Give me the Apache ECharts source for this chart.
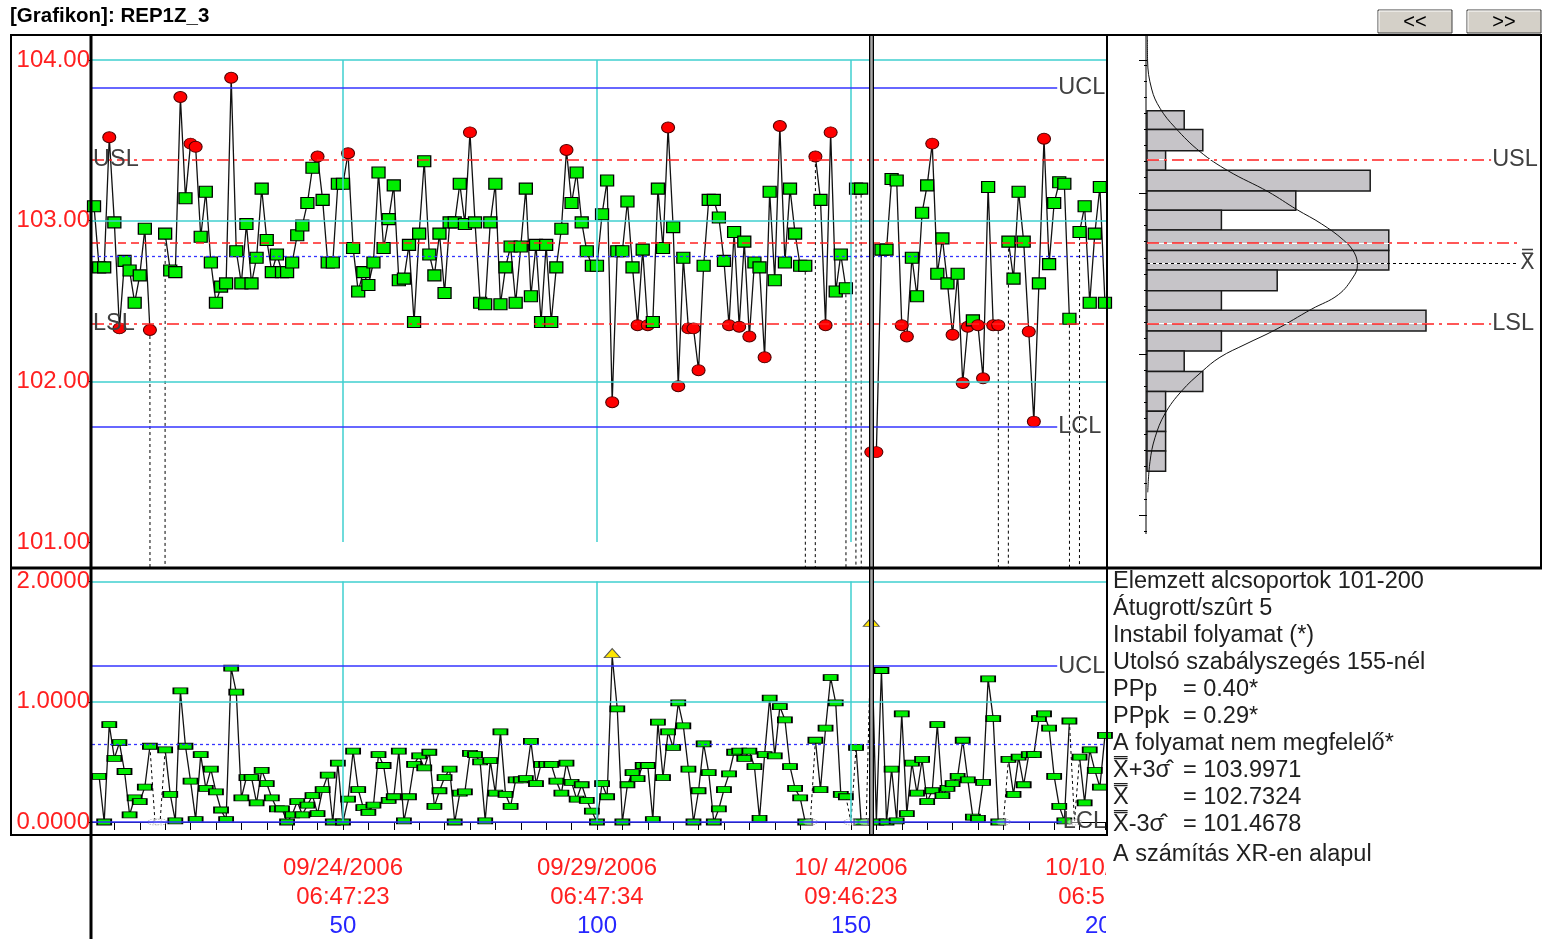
<!DOCTYPE html>
<html><head><meta charset="utf-8">
<script src="https://cdn.jsdelivr.net/npm/echarts@6/dist/echarts.min.js"></script>
<style>html,body{margin:0;padding:0;background:#fff;overflow:hidden}#c{width:1542px;height:939px}</style>
</head><body><div id="c"></div><script>
// ---------------- data ----------------
// X (individual values) per subgroup 1..200, null = skipped/filtered subgroup
const xValues = [
 103.09,102.71,102.71,103.52,102.99,102.33,102.75,102.69,102.49,102.66,
 102.95,102.32,null,null,102.92,102.69,102.68,103.77,103.14,103.48,
 103.46,102.90,103.18,102.74,102.49,102.59,102.61,103.89,102.81,102.61,
 102.98,102.61,102.77,103.20,102.88,102.68,102.79,102.68,102.68,102.74,
 102.91,102.97,103.11,103.33,103.40,103.13,102.74,102.74,103.23,103.23,
 103.42,102.83,102.56,102.68,102.60,102.74,103.30,102.83,103.01,103.22,
 102.63,102.64,102.85,102.37,102.92,103.37,102.79,102.66,102.92,102.55,
 102.99,102.99,103.23,102.98,103.55,102.99,102.49,102.48,102.99,103.23,
 102.48,102.71,102.84,102.49,102.84,103.20,102.53,102.85,102.37,102.85,
 102.37,102.71,102.95,103.44,103.11,103.30,102.99,102.81,102.72,102.72,
 103.04,103.25,101.87,102.81,102.81,103.12,102.71,102.35,102.82,102.35,
 102.37,103.20,102.83,103.58,102.96,101.97,102.77,102.33,102.33,102.07,
 102.72,103.13,103.13,103.02,102.75,102.35,102.93,102.34,102.87,102.28,
 102.74,102.71,102.15,103.18,102.63,103.59,102.74,103.20,102.92,102.72,
 102.72,null,103.40,103.13,102.35,103.55,102.56,102.79,102.58,null,
 103.20,103.20,null,101.56,101.56,102.82,102.82,103.26,103.25,102.35,
 102.28,102.77,102.53,103.05,103.22,103.48,102.67,102.89,102.61,102.29,
 102.67,101.99,102.34,102.38,102.35,102.02,103.21,102.35,102.35,null,
 102.87,102.64,103.18,102.87,102.31,101.75,102.61,103.51,102.73,103.11,
 103.24,103.23,102.39,null,102.93,103.09,102.49,102.92,103.21,102.49];
// moving ranges (null = none / skipped)
const rValues = [
 null,0.38,0.00,0.81,0.53,0.66,0.42,0.06,0.20,0.17,
 0.29,0.63,null,null,0.60,0.23,0.01,1.09,0.63,0.34,
 0.02,0.56,0.28,0.44,0.25,0.10,0.02,1.28,1.08,0.20,
 0.37,0.37,0.16,0.43,0.32,0.20,0.11,0.11,0.00,0.06,
 0.17,0.06,0.14,0.22,0.07,0.27,0.39,0.00,0.49,0.00,
 0.19,0.59,0.27,0.12,0.08,0.14,0.56,0.47,0.18,0.21,
 0.59,0.01,0.21,0.48,0.55,0.45,0.58,0.13,0.26,0.37,
 0.44,0.00,0.24,0.25,0.57,0.56,0.50,0.01,0.51,0.24,
 0.75,0.23,0.13,0.35,0.35,0.36,0.67,0.32,0.48,0.48,
 0.48,0.34,0.24,0.49,0.33,0.19,0.31,0.18,0.09,0.00,
 0.32,0.21,1.38,0.94,0.00,0.31,0.41,0.36,0.47,0.47,
 0.02,0.83,0.37,0.75,0.62,0.99,0.80,0.44,0.00,0.26,
 0.65,0.41,0.00,0.11,0.27,0.40,0.58,0.59,0.53,0.59,
 0.46,0.03,0.56,1.03,0.55,0.96,0.85,0.46,0.28,0.20,
 0.00,null,0.68,0.27,0.78,1.20,0.99,0.23,0.21,null,
 0.62,0.00,null,1.64,0.00,1.26,0.00,0.44,0.01,0.90,
 0.07,0.49,0.24,0.52,0.17,0.26,0.81,0.22,0.28,0.32,
 0.38,0.68,0.35,0.04,0.03,0.33,1.19,0.86,0.00,null,
 0.52,0.23,0.54,0.31,0.56,0.56,0.86,0.90,0.78,0.38,
 0.13,0.01,0.84,null,0.54,0.16,0.60,0.43,0.29,0.72];

const USL = 103.38, LSL = 102.36, NOMINAL = 102.86;
const X_UCL = 103.83, X_CL = 102.776, X_LCL = 101.72, X_BAR = 102.7324;
const R_UCL = 1.297, R_CL = 0.648, R_LCL = 0;
const cursorSubgroup = 154;

const xAxisLabelValues = [101, 102, 103, 104];
const xGridValues = [102, 103, 104];
const rAxisLabelValues = [0, 1, 2];
const rGridValues = [1, 2];
const tickIndices = [50, 100, 150, 200];
const tickDates = ['09/24/2006', '09/29/2006', '10/ 4/2006', '10/10/2006'];
const tickTimes = ['06:47:23', '06:47:34', '09:46:23', '06:52:40'];
const gridSubgroups = [50, 100, 150];
const bottomTicks = [5,10,15,20,25,30,35,40,45,50,55,60,65,70,75,80,85,90,95,100,105,110,115,120,125,130,135,140,145,150,155,160,165,170,175,180,185,190,195,200];

// histogram (subgroups 101-200): bin edges top->bottom, counts
const histEdges = [103.685,103.568,103.436,103.315,103.185,103.065,102.943,102.815,102.693,102.565,102.443,102.314,102.189,102.061,101.938,101.815,101.689,101.567,101.441];
const histCounts = [2,3,1,12,8,4,13,13,7,4,15,4,2,3,1,1,1,1];
const curveCounts = [0.02,0.03,0.25,0.70,1.51,2.85,4.37,6.52,8.05,9.39,10.56,11.15,11.31,11.09,10.29,8.85,6.88,5.27,3.92,2.94,1.86,0.97,0.43,0.16,0.04];
const curveValues = [104.15,104.00,103.82,103.70,103.58,103.43,103.31,103.18,103.07,102.98,102.88,102.80,102.72,102.65,102.54,102.45,102.32,102.23,102.15,102.06,101.94,101.80,101.65,101.50,101.31];

const panelLines = [
 ['Elemzett alcsoportok 101-200', ''],
 ['Átugrott/szûrt 5', ''],
 ['Instabil folyamat (*)', ''],
 ['Utolsó szabályszegés 155-nél', ''],
 ['PPp', '= 0.40*'],
 ['PPpk', '= 0.29*'],
 ['A folyamat nem megfelelő*', ''],
 ['X\u033F+3σ\u0302', '= 103.9971'],
 ['X\u033F', '= 102.7324'],
 ['X\u033F-3σ\u0302', '= 101.4678'],
 ['A számítás XR-en alapul', '']
];

// ---------------- chart ----------------
const FONT = '"Liberation Sans", Arial, sans-serif';
const BLUE = '#3434ff', CYAN = '#3fcfcf', RED = '#ff2020', LBL = '#404040';
const XMIN = 0.6, XMAX = 200.4, HMAX = 20;

const chart = echarts.init(document.getElementById('c'));

const isOut = v => v > USL || v < LSL;
const xData = xValues.map((v, k) => v === null ? [k + 1, null] : {
  value: [k + 1, v],
  symbol: isOut(v) ? 'circle' : 'rect',
  itemStyle: isOut(v) ? {color: '#ff0000', borderColor: '#500000', borderWidth: 1}
                      : {color: '#00ee00', borderColor: '#000', borderWidth: 1.2}
});
const rData = rValues.map((v, k) => v === null ? [k + 1, null] : {
  value: [k + 1, v],
  symbol: v > R_UCL ? 'triangle' : 'rect',
  symbolSize: v > R_UCL ? [16, 9] : [14, 6],
  symbolOffset: v > R_UCL ? [0, -3] : [0, 0],
  itemStyle: v > R_UCL ? {color: '#ffe600', borderColor: '#555', borderWidth: 1}
                       : {color: '#00ee00', borderColor: '#000', borderWidth: 1.2}
});

// skipped runs
const skipped = [];
xValues.forEach((v, k) => { if (v === null) skipped.push(k + 1); });
const runs = [];
skipped.forEach(s => { const last = runs[runs.length - 1]; if (last && last[last.length - 1] === s - 1) last.push(s); else runs.push([s]); });

const dashSeries = [];
runs.forEach(run => {
  const p = run[0] - 1, n = run[run.length - 1] + 1;
  const xs = [[p, xValues[p - 1]]].concat(run.map(s => [s, 0])).concat([[n, xValues[n - 1]]]);
  const rs = [[p, rValues[p - 1]]].concat(run.map(s => [s, 0])).concat([[n, rValues[n - 1]]]);
  dashSeries.push({type: 'line', xAxisIndex: 0, yAxisIndex: 0, data: xs, symbol: 'none', silent: true, z: 2,
    lineStyle: {color: '#000', width: 1, type: [3, 3]}});
  dashSeries.push({type: 'line', xAxisIndex: 1, yAxisIndex: 1, data: rs, symbol: 'none', silent: true, z: 2,
    lineStyle: {color: '#000', width: 1, type: [3, 3]}});
});

const seg = (x1, y1, x2, y2) => [{coord: [x1, y1]}, {coord: [x2, y2]}];
const refSeries = (ax, lines, style, z) => ({
  type: 'line', xAxisIndex: ax, yAxisIndex: ax, data: [], z: z, silent: true,
  markLine: {symbol: 'none', silent: true, animation: false, label: {show: false},
    lineStyle: style, emphasis: {disabled: true}, data: lines}
});
const lblPt = (x, y, text, extra) => ({coord: [x, y], label: Object.assign({formatter: text}, extra || {})});
const dashDot = [12, 5, 3, 5];
const labelSeries = (ax, pts) => ({
  type: 'line', xAxisIndex: ax, yAxisIndex: ax, data: [], z: 5, silent: true,
  markPoint: {symbol: 'rect', symbolSize: 0.1, itemStyle: {color: 'rgba(0,0,0,0)'}, silent: true,
    label: {show: true, position: 'right', distance: 1, color: LBL, fontSize: 23.5, fontFamily: FONT}, data: pts}
});

const cyanStyle = {color: CYAN, width: 1.5, type: 'solid'};
const blueStyle = {color: BLUE, width: 1.6, type: 'solid'};
const blueDash = {color: BLUE, width: 1.3, type: [3, 3]};
const redDash = {color: RED, width: 1.5, type: [8, 5]};
const redDashDot = {color: RED, width: 1.5, type: dashDot};

const refs = [
  // X chart
  refSeries(0, xGridValues.map(v => seg(XMIN, v, XMAX, v)).concat(gridSubgroups.map(s => seg(s, 101, s, 104))), cyanStyle, 1),
  refSeries(0, [seg(XMIN, X_UCL, 190.6, X_UCL), seg(XMIN, X_LCL, 190.6, X_LCL)], blueStyle, 1),
  refSeries(0, [seg(XMIN, X_CL, XMAX, X_CL)], blueDash, 1),
  refSeries(0, [seg(XMIN, NOMINAL, XMAX, NOMINAL)], redDash, 1),
  refSeries(0, [seg(XMIN, USL, XMAX, USL), seg(XMIN, LSL, XMAX, LSL)], redDashDot, 1),
  labelSeries(0, [lblPt(190.6, X_UCL, 'UCL'), lblPt(190.6, X_LCL, 'LCL'), lblPt(XMIN, USL, 'USL'), lblPt(XMIN, LSL, 'LSL')]),
  // R chart
  refSeries(1, rGridValues.map(v => seg(XMIN, v, XMAX, v)).concat(gridSubgroups.map(s => seg(s, 0, s, 2))), cyanStyle, 1),
  refSeries(1, [seg(XMIN, R_UCL, 190.6, R_UCL), seg(XMIN, R_LCL, 191.5, R_LCL)], blueStyle, 1),
  refSeries(1, [seg(XMIN, R_CL, XMAX, R_CL)], blueDash, 1),
  labelSeries(1, [lblPt(190.6, R_UCL, 'UCL'), lblPt(191.5, R_LCL, 'LCL')]),
  // histogram
  refSeries(2, [seg(0, USL, HMAX, USL), seg(0, NOMINAL, HMAX, NOMINAL), seg(0, X_BAR, HMAX, X_BAR), seg(0, LSL, HMAX, LSL)], {color: '#fff', width: 1, type: 'solid'}, 3),
  refSeries(2, [seg(0, USL, 18.5, USL), seg(0, NOMINAL, 19.9, NOMINAL), seg(0, LSL, 18.5, LSL)], redDashDot, 4),
  refSeries(2, [seg(0, X_BAR, 19.9, X_BAR)], {color: '#000', width: 1, type: [3, 3]}, 4),
  labelSeries(2, [lblPt(18.5, USL, 'USL'), lblPt(18.5, LSL, 'LSL'),
    lblPt(19.9, X_BAR, 'X\u033F', {fontFamily: '"DejaVu Sans", sans-serif', fontSize: 21, distance: 3})])
];

const cursorSeries = ax => ({
  type: 'line', xAxisIndex: ax, yAxisIndex: ax, data: [], z: 2, silent: true,
  markLine: {symbol: 'none', silent: true, animation: false, label: {show: false},
    data: [
      {xAxis: cursorSubgroup, lineStyle: {color: '#000', width: 5, type: 'solid'}},
      {xAxis: cursorSubgroup, lineStyle: {color: '#a8a8a8', width: 2.5, type: 'solid'}}
    ]}
});

const option = {
  animation: false,
  backgroundColor: '#fff',
  textStyle: {fontFamily: FONT},
  grid: [
    {left: 92, top: 35, width: 1015, height: 532},
    {left: 92, top: 569, width: 1015, height: 266},
    {left: 1147, top: 35, width: 372, height: 532},
    {left: 1147, top: 60, width: 10, height: 471},
    {left: 1147, top: 60, width: 10, height: 455}
  ],
  xAxis: [
    {gridIndex: 0, type: 'value', min: XMIN, max: XMAX, show: false},
    {gridIndex: 1, type: 'value', min: XMIN, max: XMAX, position: 'bottom', offset: 13,
      axisLine: {show: true, lineStyle: {color: '#000', width: 1}},
      axisTick: {show: true, customValues: bottomTicks, length: 8, lineStyle: {color: '#000'}},
      splitLine: {show: false},
      axisLabel: {show: true, customValues: tickIndices, margin: 6,
        formatter: v => { const k = tickIndices.indexOf(Math.round(v)); return '{d|' + tickDates[k] + '}\n{d|' + tickTimes[k] + '}\n{n|' + tickIndices[k] + '}'; },
        rich: {d: {color: RED, fontSize: 24, lineHeight: 29, fontFamily: FONT}, n: {color: '#2626ff', fontSize: 24, lineHeight: 29, fontFamily: FONT}}}},
    {gridIndex: 2, type: 'value', min: 0, max: HMAX, show: false},
    {gridIndex: 3, type: 'value', min: 0, max: 1, show: false},
    {gridIndex: 4, type: 'value', min: 0, max: 1, show: false}
  ],
  yAxis: [
    {gridIndex: 0, type: 'value', min: 100.845, max: 104.156, splitLine: {show: false},
      axisLine: {show: false},
      axisTick: {show: true, customValues: xAxisLabelValues, length: 5, lineStyle: {color: '#000'}},
      axisLabel: {customValues: xAxisLabelValues, formatter: v => v.toFixed(2), color: RED, fontSize: 24, fontFamily: FONT, margin: 2}},
    {gridIndex: 1, type: 'value', min: -0.108, max: 2.104, splitLine: {show: false},
      axisLine: {show: false},
      axisTick: {show: true, customValues: rAxisLabelValues, length: 5, lineStyle: {color: '#000'}},
      axisLabel: {customValues: rAxisLabelValues, formatter: v => v.toFixed(4), color: RED, fontSize: 24, fontFamily: FONT, margin: 2}},
    {gridIndex: 2, type: 'value', min: 100.845, max: 104.156, show: false},
    {gridIndex: 3, type: 'value', min: 101.069, max: 104.0, interval: 0.1, splitLine: {show: false},
      axisLine: {show: false}, axisLabel: {show: false}, axisTick: {show: true, length: 3, lineStyle: {color: '#000'}}},
    {gridIndex: 4, type: 'value', min: 101.169, max: 104.0, interval: 1, splitLine: {show: false},
      axisLine: {show: false}, axisLabel: {show: false}, axisTick: {show: true, length: 8, lineStyle: {color: '#000'}}}
  ],
  series: refs.concat([
    cursorSeries(0), cursorSeries(1),
    // X individual values
    {type: 'line', xAxisIndex: 0, yAxisIndex: 0, data: xData, z: 3, connectNulls: false, clip: true,
      symbolSize: [13, 11], showAllSymbol: true, lineStyle: {color: '#111', width: 1.3}},
    // moving range
    {type: 'line', xAxisIndex: 1, yAxisIndex: 1, data: rData, z: 3, connectNulls: false, clip: true,
      showAllSymbol: true, lineStyle: {color: '#111', width: 1.3}},
    // skipped markers on R chart
    {type: 'scatter', xAxisIndex: 1, yAxisIndex: 1, data: skipped.map(s => [s, 0]), z: 3, symbol: 'circle', symbolSize: [14, 6],
      itemStyle: {color: 'rgba(255,255,255,0.6)', borderColor: '#888', borderWidth: 1, borderType: 'dotted'}},
    // histogram bars
    {type: 'custom', xAxisIndex: 2, yAxisIndex: 2, z: 2, silent: true,
      data: histCounts.map((c, k) => [c, histEdges[k + 1], histEdges[k]]),
      renderItem: (params, api) => {
        const p0 = api.coord([0, api.value(2)]);
        const p1 = api.coord([api.value(0), api.value(1)]);
        return {type: 'rect', shape: {x: p0[0], y: p0[1], width: p1[0] - p0[0], height: p1[1] - p0[1]},
          style: {fill: '#c6c4c8', stroke: '#1a1a1a', lineWidth: 1.5}};
      }},
    // normal curve
    {type: 'line', xAxisIndex: 2, yAxisIndex: 2, z: 4, silent: true, symbol: 'none', smooth: 0.4,
      data: curveCounts.map((c, k) => [c, curveValues[k]]), lineStyle: {color: '#111', width: 1}},
    // tick-only helpers for histogram axis
    {type: 'line', xAxisIndex: 3, yAxisIndex: 3, data: []},
    {type: 'line', xAxisIndex: 4, yAxisIndex: 4, data: []}
  ]).concat(dashSeries),
  graphic: [
    {type: 'text', left: 10, top: 6, z: 100, style: {text: '[Grafikon]: REP1Z_3', font: 'bold 20.5px ' + FONT, fill: '#000'}},
    // buttons
    {type: 'rect', z: 100, shape: {x: 1378, y: 10, width: 74, height: 23}, style: {fill: '#d4d0c8', stroke: '#404040', lineWidth: 1}},
    {type: 'polyline', z: 101, shape: {points: [[1379, 32], [1379, 11], [1451, 11]]}, style: {stroke: '#fff', lineWidth: 1, fill: null}},
    {type: 'text', z: 102, x: 1415, y: 22, style: {text: '<<', font: '20px ' + FONT, fill: '#000', align: 'center', verticalAlign: 'middle'}},
    {type: 'rect', z: 100, shape: {x: 1467, y: 10, width: 74, height: 23}, style: {fill: '#d4d0c8', stroke: '#404040', lineWidth: 1}},
    {type: 'polyline', z: 101, shape: {points: [[1468, 32], [1468, 11], [1540, 11]]}, style: {stroke: '#fff', lineWidth: 1, fill: null}},
    {type: 'text', z: 102, x: 1504, y: 22, style: {text: '>>', font: '20px ' + FONT, fill: '#000', align: 'center', verticalAlign: 'middle'}},
    // clip of last axis label
    {type: 'rect', z: 90, shape: {x: 1106, y: 837, width: 436, height: 102}, style: {fill: '#fff'}},
    // frames
    {type: 'line', z: 95, shape: {x1: 10, y1: 35, x2: 1542, y2: 35}, style: {stroke: '#000', lineWidth: 2}},
    {type: 'line', z: 95, shape: {x1: 11, y1: 35, x2: 11, y2: 836}, style: {stroke: '#000', lineWidth: 2}},
    {type: 'line', z: 95, shape: {x1: 1541, y1: 35, x2: 1541, y2: 568}, style: {stroke: '#000', lineWidth: 2}},
    {type: 'line', z: 95, shape: {x1: 10, y1: 568, x2: 1542, y2: 568}, style: {stroke: '#000', lineWidth: 3}},
    {type: 'line', z: 95, shape: {x1: 1107, y1: 35, x2: 1107, y2: 836}, style: {stroke: '#000', lineWidth: 2}},
    {type: 'line', z: 95, shape: {x1: 10, y1: 835, x2: 1107, y2: 835}, style: {stroke: '#000', lineWidth: 2}},
    {type: 'line', z: 95, shape: {x1: 91, y1: 35, x2: 91, y2: 939}, style: {stroke: '#000', lineWidth: 3}},
    {type: 'line', z: 95, shape: {x1: 1146, y1: 35, x2: 1146, y2: 534}, style: {stroke: '#000', lineWidth: 1}}
  ].concat(panelLines.map((ln, k) => ({type: 'text', z: 100, x: 1113, y: k < 10 ? 582 + 27 * k : 855,
      style: {text: ln[0], font: '23.5px ' + FONT, fill: '#202020', verticalAlign: 'middle'}})))
   .concat(panelLines.filter(ln => ln[1]).map(ln => ({type: 'text', z: 100, x: 1183, y: 582 + 27 * panelLines.indexOf(ln),
      style: {text: ln[1], font: '23.5px ' + FONT, fill: '#202020', verticalAlign: 'middle'}})))
};
chart.setOption(option);
</script></body></html>
